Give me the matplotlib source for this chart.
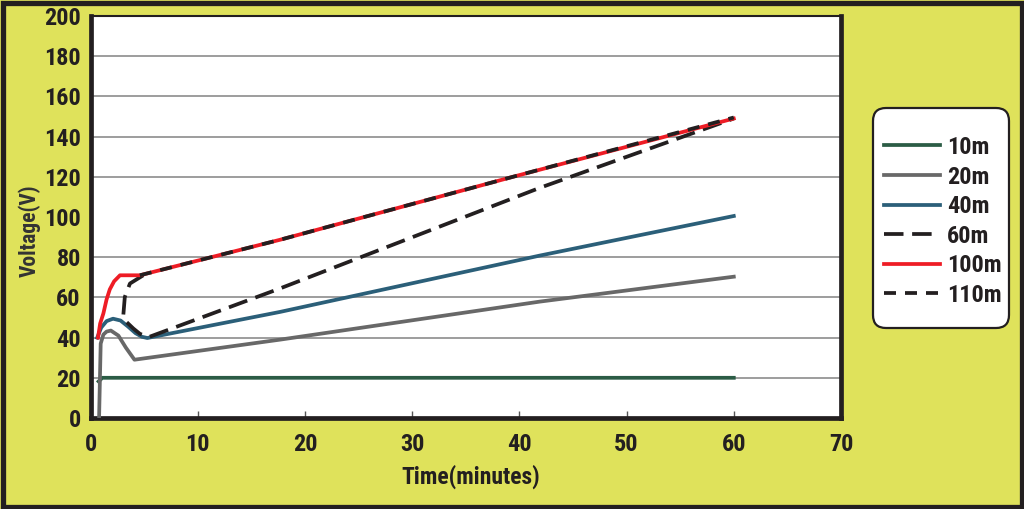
import matplotlib
matplotlib.use("Agg")
import matplotlib.pyplot as plt
from matplotlib.patches import FancyBboxPatch, Rectangle

plt.rcParams['font.family'] = ['Roboto Condensed', 'PT Sans Narrow', 'Asap Condensed', 'DejaVu Sans']

# ---- data ----
x_10m = [0.76, 1.1, 60]
y_10m = [18.2, 20.0, 20.0]

x_20m = [0.8, 0.95, 1.2, 1.5, 1.9, 2.6, 3.3, 4.1, 17.7, 41.9, 60]
y_20m = [0.0, 37.0, 41.5, 43.0, 43.5, 41.0, 35.0, 29.0, 39.0, 57.9, 70.3]

x_40m = [0.63, 1.0, 1.5, 2.1, 2.8, 3.5, 4.2, 4.8, 5.3, 17.7, 41.9, 60]
y_40m = [40.0, 45.0, 48.2, 49.4, 48.5, 45.5, 42.2, 40.4, 39.8, 52.8, 80.8, 100.5]

x_60m = [4.92, 3.68, 3.2, 3.06, 3.37, 4.0, 4.6, 5.4, 17.7, 41.9, 60]
y_60m = [71.0, 66.9, 60.2, 51.1, 47.7, 44.5, 41.9, 40.2, 64.5, 114.5, 149.0]

x_100m = [0.7, 0.9, 1.2, 1.5, 1.8, 2.2, 2.75, 4.6, 17.7, 39.4, 60]
y_100m = [40.0, 47.0, 52.0, 59.0, 64.0, 68.0, 71.0, 71.0, 88.7, 120.0, 149.0]

x_110m = [4.6, 17.7, 39.4, 60]
y_110m = [71.0, 88.7, 120.0, 149.5]

legend_labels = ['10m', '20m', '40m', '60m', '100m', '110m']
x_ticks = [0, 10, 20, 30, 40, 50, 60, 70]
y_ticks = [0, 20, 40, 60, 80, 100, 120, 140, 160, 180, 200]
grid_levels = [20, 40, 60, 80, 120, 140, 160, 180]

BG = '#dfe25b'
INK = '#231f20'

fig = plt.figure(figsize=(10.24, 5.09), dpi=100, facecolor=BG)
ax = fig.add_axes([90.5/1024, 91/509, (841-90.5)/1024, (418-16)/509])
ax.set_facecolor('white')

for g in grid_levels:
    ax.axhline(g, color='#8c8c8c', lw=1.2, zorder=1)

lw = 2.7
ax.plot(x_10m, y_10m, color='#2b5c45', lw=lw, label=legend_labels[0], zorder=3)
ax.plot(x_20m, y_20m, color='#686868', lw=lw, label=legend_labels[1], zorder=3)
ax.plot(x_40m, y_40m, color='#2b5f79', lw=lw, label=legend_labels[2], zorder=3)
ax.plot(x_60m, y_60m, color=INK, lw=lw, dashes=(5.2, 2.3), label=legend_labels[3], zorder=4)
ax.plot(x_100m, y_100m, color='#ee1c25', lw=lw, label=legend_labels[4], zorder=4)
ax.plot(x_110m, y_110m, color=INK, lw=lw, dashes=(3.2, 2.4), label=legend_labels[5], zorder=5)

ax.set_xlim(0, 70)
ax.set_ylim(0, 200)
ax.set_xticks(x_ticks)
ax.set_yticks(y_ticks)
ax.tick_params(axis='x', direction='in', length=5, width=1, color='#555555',
               pad=11, labelsize=17.5, labelcolor=INK)
ax.tick_params(axis='y', length=0, pad=7, labelsize=17.5, labelcolor=INK)
for lab in ax.get_xticklabels() + ax.get_yticklabels():
    lab.set_fontweight('bold')

for s in ax.spines.values():
    s.set_linewidth(3.4)
    s.set_color(INK)
ax.spines['top'].set_linewidth(1.5)

ax.set_xlabel('Time(minutes)', fontsize=17, fontweight='bold', color=INK)
ax.xaxis.set_label_coords(0.507, -0.115)
ax.set_ylabel('Voltage(V)', fontsize=15.5, fontweight='bold', color='#333333')
ax.yaxis.set_label_coords(-0.066, 0.465)

leg = fig.legend(loc='upper left', bbox_to_anchor=(884/1024, 1-136/509),
                 frameon=False, prop={'weight': 'bold', 'size': 17.5},
                 handlelength=2.3, handletextpad=0.3, labelspacing=0.27,
                 borderpad=0, borderaxespad=0)
for t in leg.get_texts():
    t.set_color(INK)

box = FancyBboxPatch((873, 509-328), 1009-873, 328-108,
                     boxstyle='round,pad=0,rounding_size=13',
                     transform=None, facecolor='white', edgecolor=INK, lw=1.6, zorder=0)
fig.patches.append(box)

frame = Rectangle((2.5, 2.5), 1024-5, 509-5, transform=None, fill=False,
                  edgecolor=INK, lw=3.8)
fig.patches.append(frame)

fig.savefig('out.png', dpi=100, facecolor=BG)
